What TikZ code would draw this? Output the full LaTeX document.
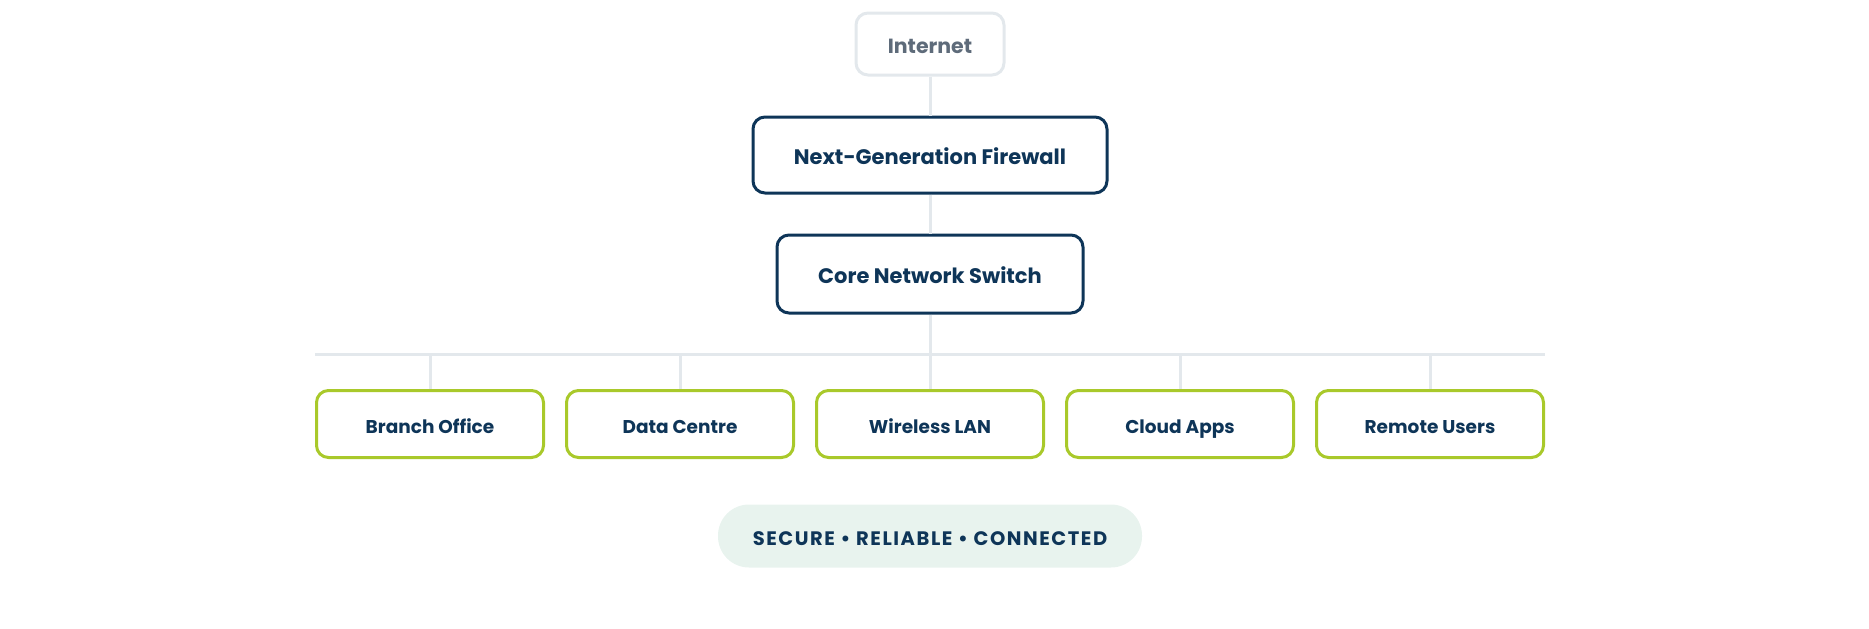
\documentclass[tikz,border=0pt]{standalone}
\usepackage{fontspec}
\setmainfont{Poppins}
\usetikzlibrary{positioning}
\definecolor{navy}{HTML}{0E3558}
\definecolor{lime}{HTML}{A9C92B}
\definecolor{wire}{HTML}{E3E8EC}
\definecolor{mist}{HTML}{E8F3EE}
\definecolor{slate}{HTML}{5E6B7A}
\tikzset{
  corebox/.style={draw=navy,line width=3pt,rounded corners=12pt,fill=white,text=navy,
    font=\bfseries\fontsize{21}{24}\selectfont,minimum height=76pt,inner sep=0pt,
    text height=19.7pt,text depth=0pt},
  edgebox/.style={draw=lime,line width=3pt,rounded corners=12pt,fill=white,text=navy,
    font=\bfseries\fontsize{18.5}{22}\selectfont,minimum width=227pt,minimum height=67pt,inner sep=0pt,
    text height=18pt,text depth=0pt},
  netbox/.style={draw=wire,line width=3pt,rounded corners=12pt,fill=white,text=slate,
    font=\bfseries\fontsize{20.5}{24}\selectfont,minimum width=148pt,minimum height=62pt,inner sep=0pt,
    text height=19.3pt,text depth=0pt},
  tagline/.style={fill=mist,rounded corners=31pt,text=navy,minimum width=424pt,minimum height=63pt,
    font=\bfseries\fontsize{19.5}{22}\selectfont\addfontfeatures{LetterSpace=8},
    inner sep=0pt,text height=18.7pt,text depth=0pt},
  link/.style={draw=wire,line width=3pt}
}

\begin{document}
\begin{tikzpicture}[x=1pt,y=-1pt]
  \useasboundingbox (0,0) rectangle (1869,629);
  \node[netbox] (inet) at (930,44) {Internet};
  \node[corebox,minimum width=354pt] (fw) at (930,155) {Next-Generation Firewall};
  \node[corebox,minimum width=306pt,minimum height=78pt] (sw) at (930,274) {Core Network Switch};
  \draw[link] (inet) -- (fw);
  \draw[link] (fw) -- (sw);
  % distribution bus
  \coordinate (busL) at (315,354);
  \coordinate (busR) at (1545,354);
  \draw[link] (busL) -- (busR);
  \draw[link] (sw) -- (sw |- busL);
  \foreach \i/\lbl in {0/Branch Office,1/Data Centre,2/Wireless LAN,3/Cloud Apps,4/Remote Users}{
    \node[edgebox] (site\i) at (430+250*\i,424) {\lbl};
    \draw[link] (site\i) -- (site\i |- busL);
  }
  \node[tagline] (tag) at (930,536) {SECURE • RELIABLE • CONNECTED};
\end{tikzpicture}
\end{document}
